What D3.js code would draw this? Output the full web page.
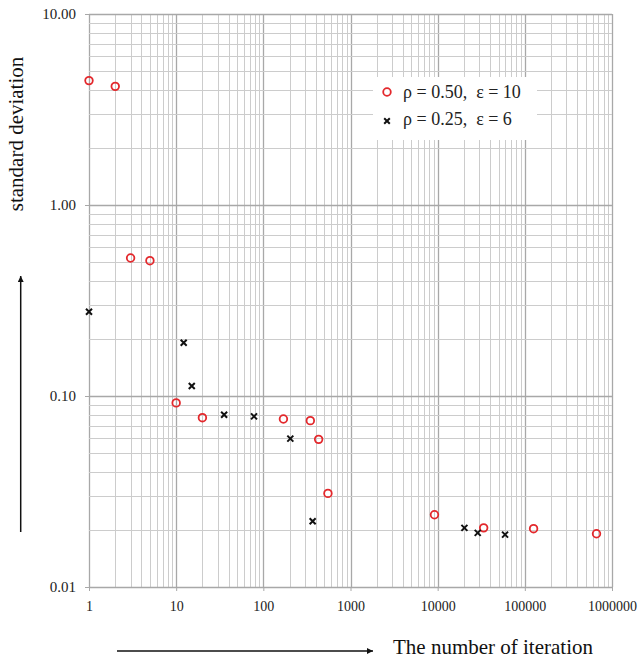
<!DOCTYPE html>
<html>
<head>
<meta charset="utf-8">
<script src="https://cdn.jsdelivr.net/npm/d3@7"></script>
<style>
  html, body { margin: 0; padding: 0; background: #fff; }
  svg { display: block; }
  text { font-family: "Liberation Serif", "Times New Roman", serif; }
</style>
</head>
<body>
<svg id="chart" width="643" height="661"></svg>
<script>
// ---- data ----
const seriesRhoHalf_x = [1, 2, 3, 5, 10, 20, 170, 346, 431, 551, 9190, 33700, 126000, 664000];
const seriesRhoHalf_y = [4.48, 4.18, 0.528, 0.511, 0.092, 0.077, 0.0758, 0.0743, 0.0593, 0.0309, 0.0239, 0.0204, 0.0202, 0.019];
const seriesRhoQuarter_x = [1, 12.2, 15.1, 35.5, 78.2, 204, 368, 20270, 28800, 59300];
const seriesRhoQuarter_y = [0.276, 0.190, 0.1128, 0.0798, 0.0782, 0.0598, 0.0221, 0.0204, 0.0192, 0.0188];
const xTickValues = [1, 10, 100, 1000, 10000, 100000, 1000000];
const xTickLabels = ["1", "10", "100", "1000", "10000", "100000", "1000000"];
const yTickValues = [0.01, 0.1, 1, 10];
const yTickLabels = ["0.01", "0.10", "1.00", "10.00"];
const legendLabels = ["\u03c1 = 0.50,  \u03b5 = 10", "\u03c1 = 0.25,  \u03b5 = 6"];
const xTitle = "The number of iteration";
const yTitle = "standard deviation";

// ---- layout ----
const L = 89, R = 612, T = 14, B = 587;
const svg = d3.select("#chart");

const x = d3.scaleLog().domain([1, 1e6]).range([L, R]);
const y = d3.scaleLog().domain([0.01, 10]).range([B, T]);

const isMajor = v => Math.abs(Math.log10(v) - Math.round(Math.log10(v))) < 1e-9;

// grid
const grid = svg.append("g");
grid.selectAll("line.vx").data(x.ticks()).join("line")
  .attr("x1", d => Math.round(x(d)) + 0.5).attr("x2", d => Math.round(x(d)) + 0.5)
  .attr("y1", T).attr("y2", B)
  .attr("stroke", d => isMajor(d) ? "#a8a8a8" : "#cccccc")
  .attr("stroke-width", d => isMajor(d) ? 1.3 : 1);
grid.selectAll("line.hy").data(y.ticks()).join("line")
  .attr("y1", d => Math.round(y(d)) + 0.5).attr("y2", d => Math.round(y(d)) + 0.5)
  .attr("x1", L).attr("x2", R)
  .attr("stroke", d => isMajor(d) ? "#a8a8a8" : "#cccccc")
  .attr("stroke-width", d => isMajor(d) ? 1.3 : 1);

// axes
const xAxis = d3.axisBottom(x).tickValues(xTickValues)
  .tickFormat((d, i) => xTickLabels[i]).tickSize(4).tickPadding(10);
const gx = svg.append("g").attr("transform", `translate(0,${B})`).call(xAxis);
gx.select(".domain").remove();
gx.selectAll(".tick line").attr("stroke", "#a8a8a8");
gx.selectAll(".tick text").attr("font-family", "Liberation Serif, serif").attr("font-size", 14).attr("fill", "#222");

const yAxis = d3.axisLeft(y).tickValues(yTickValues)
  .tickFormat((d, i) => yTickLabels[i]).tickSize(4).tickPadding(9);
const gy = svg.append("g").attr("transform", `translate(${L},0)`).call(yAxis);
gy.select(".domain").remove();
gy.selectAll(".tick line").attr("stroke", "#a8a8a8");
gy.selectAll(".tick text").attr("font-family", "Liberation Serif, serif").attr("font-size", 15).attr("fill", "#222");

// legend box (white, no border)
svg.append("rect").attr("x", 373).attr("y", 77).attr("width", 164).attr("height", 63).attr("fill", "#fff");

// markers
function drawCircles(g, xs, ys) {
  g.selectAll("circle").data(xs.map((d, i) => [d, ys[i]])).join("circle")
    .attr("cx", d => x(d[0])).attr("cy", d => y(d[1])).attr("r", 3.8)
    .attr("fill", "none").attr("stroke", "#e3282c").attr("stroke-width", 1.8);
}
function crossPath(cx, cy, s) {
  return `M${cx - s},${cy - s}L${cx + s},${cy + s}M${cx - s},${cy + s}L${cx + s},${cy - s}`;
}
function drawCrosses(g, xs, ys) {
  g.selectAll("path").data(xs.map((d, i) => [d, ys[i]])).join("path")
    .attr("d", d => crossPath(x(d[0]), y(d[1]), 3))
    .attr("fill", "none").attr("stroke", "#111").attr("stroke-width", 2);
}
drawCircles(svg.append("g"), seriesRhoHalf_x, seriesRhoHalf_y);
drawCrosses(svg.append("g"), seriesRhoQuarter_x, seriesRhoQuarter_y);

// legend entries
const lg = svg.append("g");
lg.append("circle").attr("cx", 387).attr("cy", 92).attr("r", 3.8)
  .attr("fill", "none").attr("stroke", "#e3282c").attr("stroke-width", 1.8);
lg.append("path").attr("d", crossPath(387, 121, 2.8))
  .attr("fill", "none").attr("stroke", "#111").attr("stroke-width", 2);
lg.selectAll("text").data(legendLabels).join("text")
  .attr("x", 403).attr("y", (d, i) => 98 + i * 26.5)
  .attr("font-size", 18).attr("fill", "#222")
  .attr("xml:space", "preserve").style("white-space", "pre")
  .text(d => d);

// titles
svg.append("text").attr("x", 393).attr("y", 654).attr("font-size", 21).attr("fill", "#111").text(xTitle);
svg.append("text").attr("transform", "translate(23,134) rotate(-90)").attr("text-anchor", "middle")
  .attr("font-size", 21).attr("fill", "#111").text(yTitle);

// arrows
const defs = svg.append("defs");
defs.append("marker").attr("id", "ah").attr("viewBox", "0 0 10 10").attr("refX", 10).attr("refY", 5)
  .attr("markerWidth", 6).attr("markerHeight", 6).attr("markerUnits", "userSpaceOnUse").attr("orient", "auto")
  .append("path").attr("d", "M0,0L10,5L0,10z").attr("fill", "#111");
svg.append("line").attr("x1", 20.7).attr("y1", 532).attr("x2", 20.7).attr("y2", 276)
  .attr("stroke", "#111").attr("stroke-width", 1.5).attr("marker-end", "url(#ah)");
svg.append("line").attr("x1", 117).attr("y1", 651).attr("x2", 373).attr("y2", 651)
  .attr("stroke", "#111").attr("stroke-width", 1.5).attr("marker-end", "url(#ah)");
</script>
</body>
</html>
